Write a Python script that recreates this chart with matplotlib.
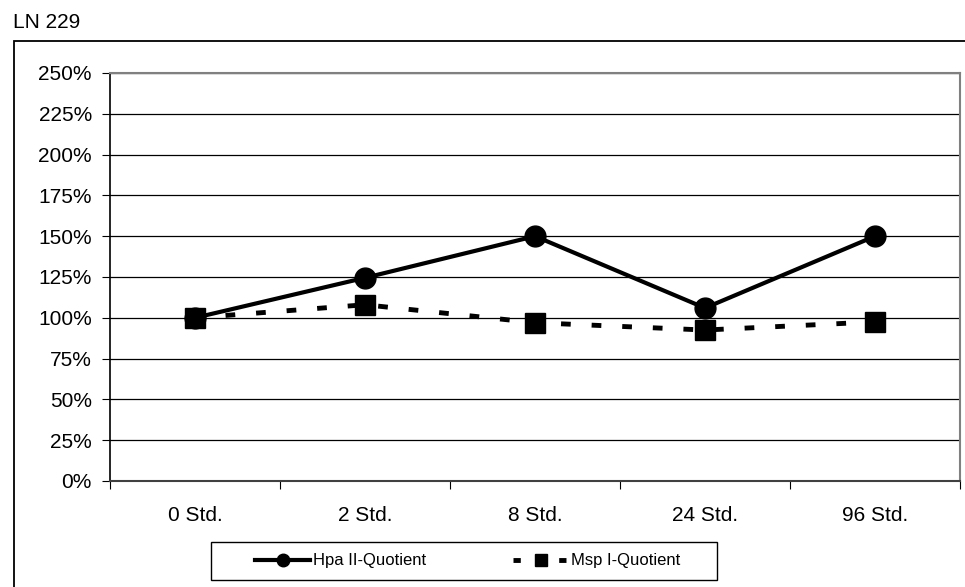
import matplotlib.pyplot as plt
from matplotlib.patches import Rectangle
from matplotlib.lines import Line2D
import numpy as np

plt.rcParams['font.family'] = ['Liberation Sans', 'DejaVu Sans']

categories = ['0 Std.', '2 Std.', '8 Std.', '24 Std.', '96 Std.']
hpa = [100, 124.5, 150, 106, 150]
msp = [100, 108, 97, 92.5, 97.5]
yticks = [0, 25, 50, 75, 100, 125, 150, 175, 200, 225, 250]

fs = 15
fig = plt.figure(figsize=(9.65, 5.87), dpi=100)
ax = fig.add_axes([110/965, 106/587, 850/965, 408/587])

x = np.arange(len(categories))
ax.plot(x, hpa, color='black', lw=3, marker='o', markersize=15, zorder=3)
ax.plot(x, msp, color='black', lw=3.5, ls=(0, (2, 4.3)), marker='s', markersize=15, zorder=3)

ax.set_xlim(-0.5, len(categories) - 0.5)
ax.set_ylim(0, 250)
ax.set_yticks(yticks)
ax.set_yticklabels([f'{v}%' for v in yticks])
ax.yaxis.grid(True, color='black', lw=0.9)
ax.set_axisbelow(True)

# tick marks on category boundaries, labels centered
ax.set_xticks(np.arange(-0.5, len(categories), 1.0))
ax.set_xticklabels([])
ax.set_xticks(x, minor=True)
ax.set_xticklabels(categories, minor=True)
ax.tick_params(axis='x', which='minor', length=0, pad=18, labelsize=fs)
ax.tick_params(axis='x', which='major', length=6, direction='out')
ax.tick_params(axis='y', length=6, direction='out', pad=7, labelsize=fs)

for s in ['top', 'right']:
    ax.spines[s].set_color('#808080')
    ax.spines[s].set_linewidth(1.5)
ax.spines['left'].set_linewidth(1.2)
ax.spines['bottom'].set_linewidth(1.5)
ax.spines['bottom'].set_color('#404040')

# outer chart frame
fig.patches.append(Rectangle((14/965, -0.1), 1.2, (587-41)/587 + 0.1, transform=fig.transFigure,
                             fill=False, edgecolor='black', lw=1.3))
fig.text(13/965, 1 - 23/587, 'LN 229', fontsize=fs, va='center', ha='left')

# legend box
fig.patches.append(Rectangle((211/965, 1 - 580/587), 506/965, 38/587, transform=fig.transFigure,
                             fill=False, edgecolor='black', lw=1))
h1 = Line2D([], [], color='black', lw=3, marker='o', markersize=9)
h2 = Line2D([], [], color='black', lw=3.5, ls=(0, (1.5, 3.2)), marker='s', markersize=9)
leg = fig.legend([h1, h2], ['Hpa II-Quotient', 'Msp I-Quotient'], loc='center left',
                 bbox_to_anchor=(255/965, 1 - 561/587), ncol=2, frameon=False,
                 fontsize=12, handlelength=3.3, handletextpad=0.2, columnspacing=5.2,
                 borderpad=0, borderaxespad=0)

fig.savefig('out.png', dpi=100)
